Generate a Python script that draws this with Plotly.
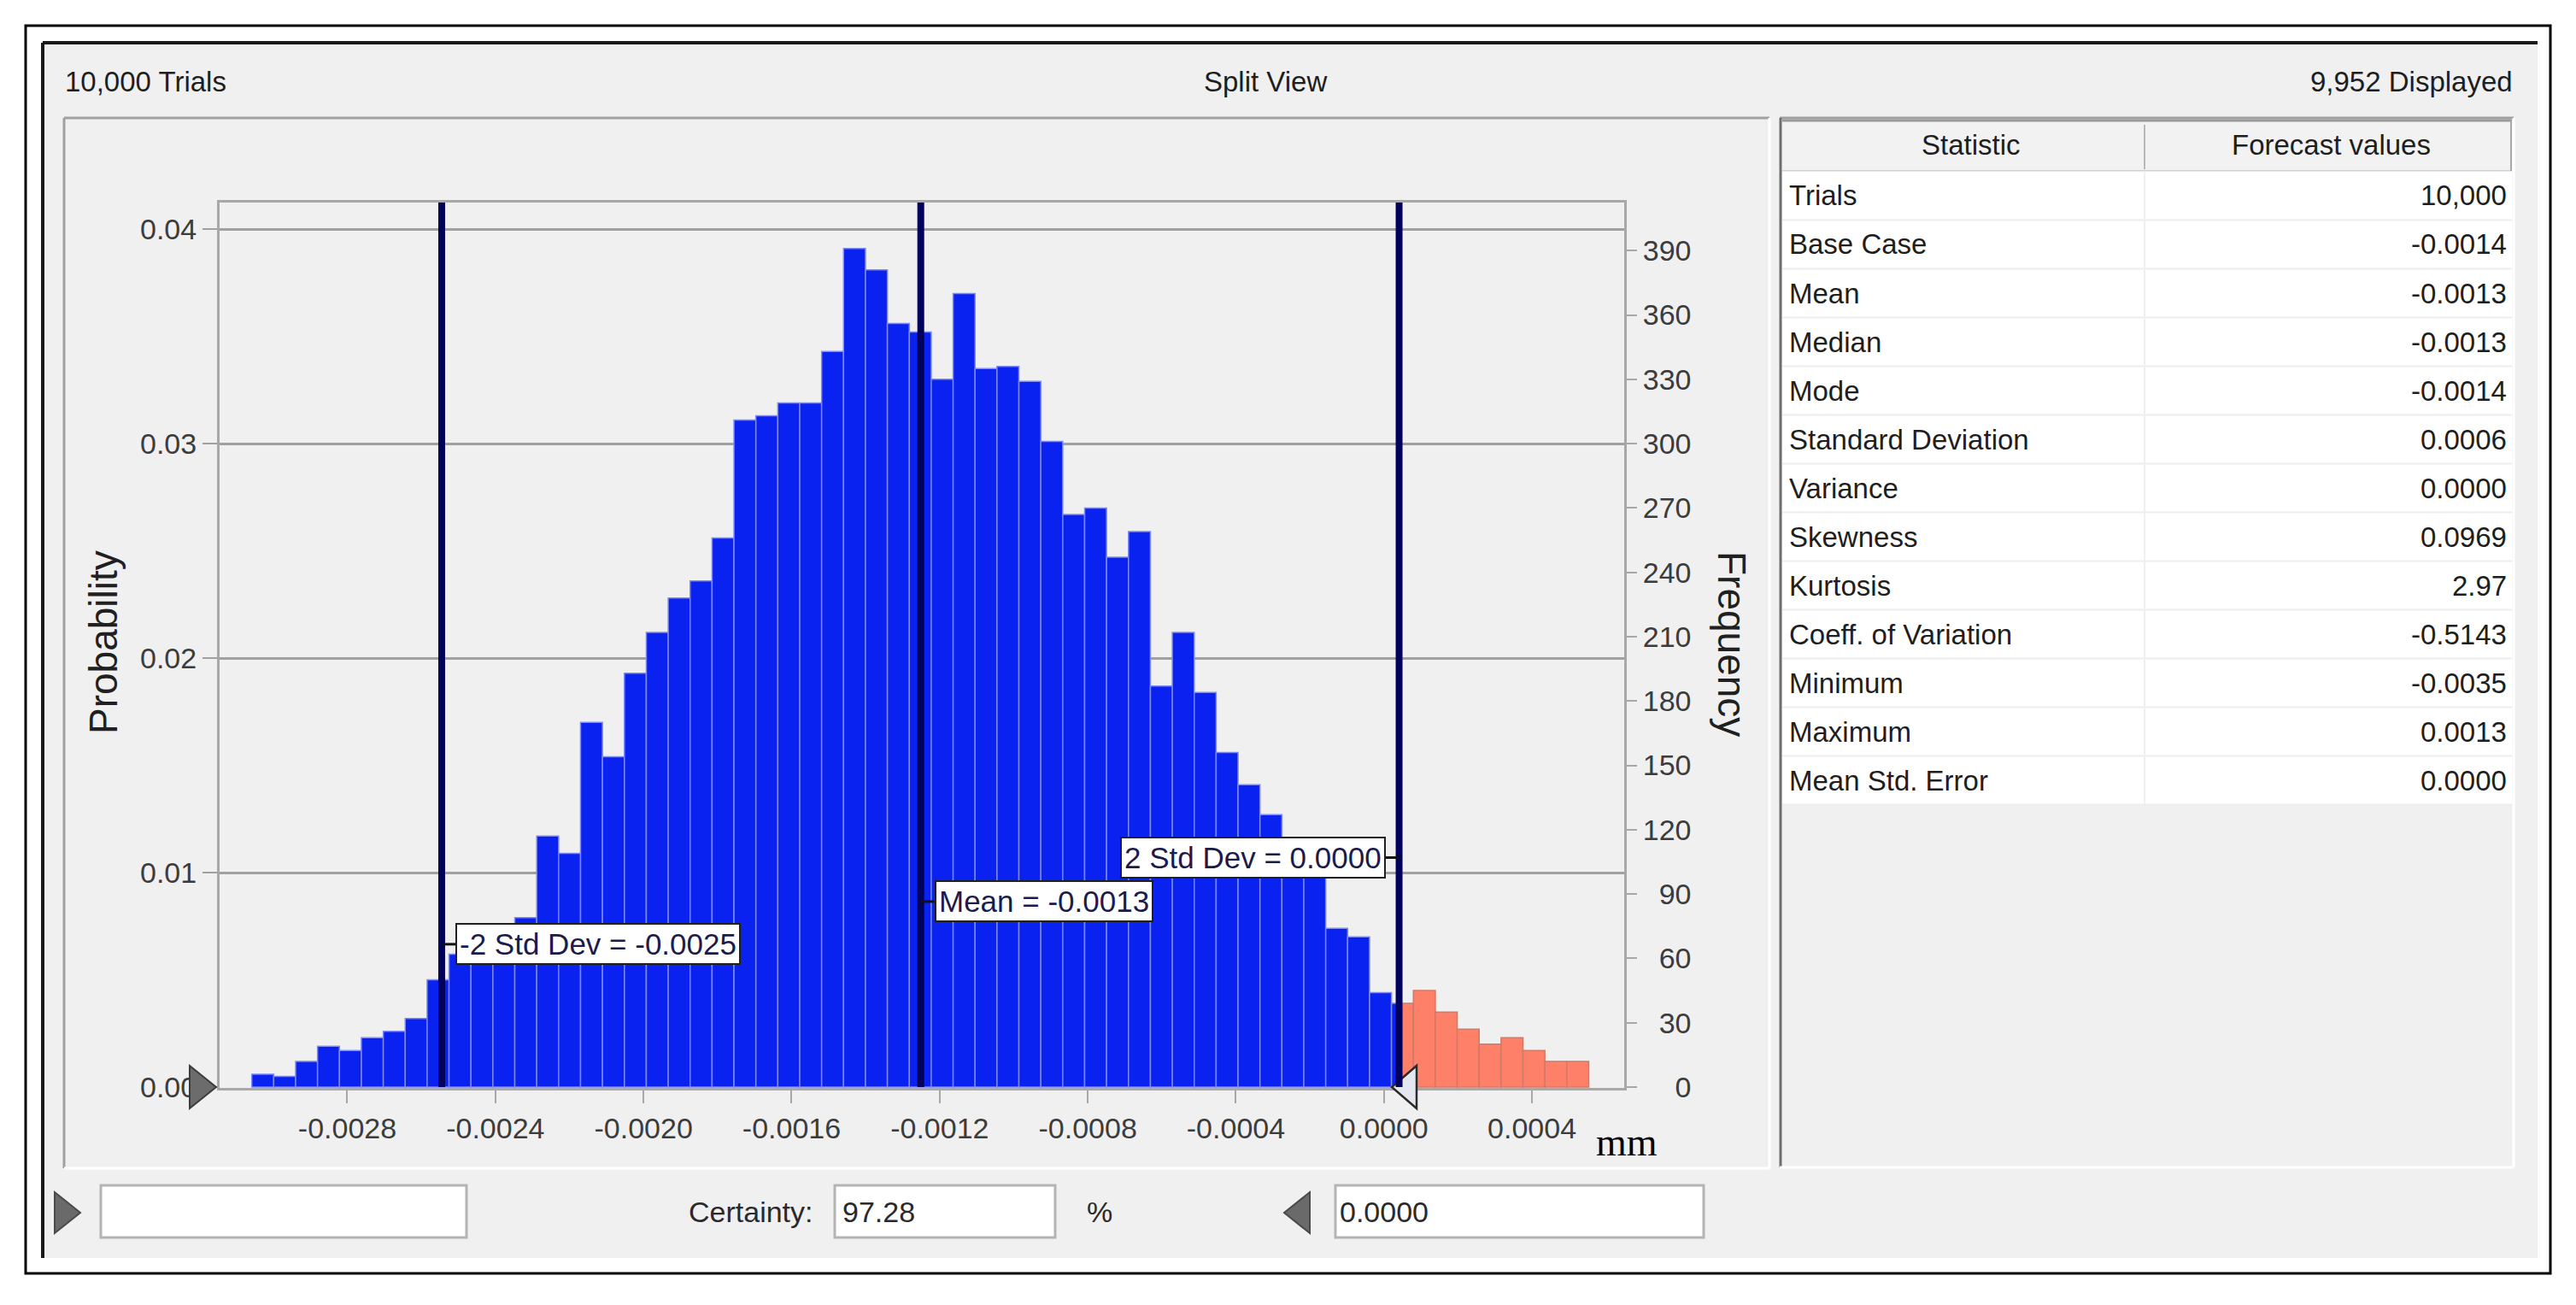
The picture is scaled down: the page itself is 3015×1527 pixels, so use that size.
import plotly.graph_objects as go
import numpy as np

W, H = 3015, 1527
H_FIG = 1545  # page height that ends up shown as 1527 rows

# ---------------- data ----------------
counts = [6, 5, 12, 19, 17, 23, 26, 32, 50, 62, 67, 73, 79, 117, 109, 170, 154, 193,
          212, 228, 236, 256, 311, 313, 319, 319, 343, 391, 381, 356, 352, 330, 370,
          335, 336, 329, 301, 267, 270, 247, 259, 187, 212, 184, 156, 141, 127, 113,
          103, 74, 70, 44, 39, 45, 35, 27, 20, 23, 17, 12, 12]
bin_start = -0.003058
bin_width = 0.0000592
certainty_upper = 0.000037
trials_total = 10000

marker_values = [-0.002545, -0.001251, 0.000041]
marker_labels = ["-2 Std Dev = -0.0025", "Mean = -0.0013", "2 Std Dev = 0.0000"]
marker_label_prob = [0.00666, 0.00865, 0.0107]
marker_label_side = ["left", "left", "right"]

x_tickvals = [-0.0028, -0.0024, -0.0020, -0.0016, -0.0012, -0.0008, -0.0004, 0.0, 0.0004]
x_ticktext = ["-0.0028", "-0.0024", "-0.0020", "-0.0016", "-0.0012", "-0.0008",
              "-0.0004", "0.0000", "0.0004"]
prob_tickvals = [0.0, 0.01, 0.02, 0.03, 0.04]
prob_ticktext = ["0.00", "0.01", "0.02", "0.03", "0.04"]
freq_tickvals = [0, 30, 60, 90, 120, 150, 180, 210, 240, 270, 300, 330, 360, 390]
freq_ticktext = ["0", "30", "60", "90", "120", "150", "180", "210", "240", "270",
                 "300", "330", "360", "390"]

stat_names = ["Trials", "Base Case", "Mean", "Median", "Mode", "Standard Deviation",
              "Variance", "Skewness", "Kurtosis", "Coeff. of Variation", "Minimum",
              "Maximum", "Mean Std. Error"]
stat_values = ["10,000", "-0.0014", "-0.0013", "-0.0013", "-0.0014", "0.0006",
               "0.0000", "0.0969", "2.97", "-0.5143", "-0.0035", "0.0013", "0.0000"]

header_left = "10,000 Trials"
header_mid = "Split View"
header_right = "9,952 Displayed"
certainty_text = "97.28"
upper_text = "0.0000"
unit_text = "mm"

# ---------------- helpers (reference pixel -> paper) ----------------
def px(X):
    return X / W

def py(Y):
    return 1 - Y / H  # paper fraction is unchanged by the vertical page scale

FONT = "Liberation Sans, Arial, sans-serif"
FS = "\u2007"  # figure space for right-aligned numbers

# plot-area geometry (reference pixels)
PL, PR, PT, PB = 257, 1901, 237, 1273
x_range = [-0.003145, 0.000649]
y_range = [-0.00004, 0.04124]
y2_range = [y_range[0] * trials_total, y_range[1] * trials_total]

# ---------------- bars (split at certainty bound) ----------------
blue_x, blue_w, blue_y = [], [], []
red_x, red_w, red_y = [], [], []
for i, c in enumerate(counts):
    lo = bin_start + i * bin_width
    hi = lo + bin_width
    if hi <= certainty_upper:
        blue_x.append((lo + hi) / 2); blue_w.append(hi - lo); blue_y.append(c)
    elif lo >= certainty_upper:
        red_x.append((lo + hi) / 2); red_w.append(hi - lo); red_y.append(c)
    else:
        blue_x.append((lo + certainty_upper) / 2); blue_w.append(certainty_upper - lo); blue_y.append(c)
        red_x.append((certainty_upper + hi) / 2); red_w.append(hi - certainty_upper); red_y.append(c)

fig = go.Figure()
fig.add_trace(go.Scatter(x=[x_range[0]], y=[0], mode="markers", marker=dict(opacity=0),
                         showlegend=False, hoverinfo="skip", yaxis="y"))
fig.add_trace(go.Bar(x=blue_x, y=blue_y, width=blue_w, yaxis="y2",
                     marker=dict(color="#0a22f0", line=dict(color="#7d88f5", width=1.5)),
                     showlegend=False))
fig.add_trace(go.Bar(x=red_x, y=red_y, width=red_w, yaxis="y2",
                     marker=dict(color="#ff8068", line=dict(color="#cf7a68", width=1.5)),
                     showlegend=False))

shapes = []
annotations = []

def rect(x0, y0, x1, y1, fill=None, color=None, width=0, layer="below"):
    shapes.append(dict(type="rect", xref="paper", yref="paper",
                       x0=px(x0), x1=px(x1), y0=py(y0), y1=py(y1),
                       fillcolor=fill if fill else "rgba(0,0,0,0)",
                       line=dict(color=color if color else "rgba(0,0,0,0)", width=width),
                       layer=layer))

def line(x0, y0, x1, y1, color, width, layer="below"):
    shapes.append(dict(type="line", xref="paper", yref="paper",
                       x0=px(x0), x1=px(x1), y0=py(y0), y1=py(y1),
                       line=dict(color=color, width=width), layer=layer))

def tri(pts, fill, color, width=2, layer="above"):
    path = "M " + " L ".join(f"{px(a)},{py(b)}" for a, b in pts) + " Z"
    shapes.append(dict(type="path", xref="paper", yref="paper", path=path,
                       fillcolor=fill, line=dict(color=color, width=width), layer=layer))

def text(X, Y, s, size=33, color="#1e1e1e", xanchor="left", family=FONT, angle=0):
    annotations.append(dict(x=px(X), y=py(Y), xref="paper", yref="paper", text=s,
                            showarrow=False, xanchor=xanchor, yanchor="middle",
                            textangle=angle,
                            font=dict(size=size, color=color, family=family)))

# outer frame and window
rect(30, 30, 2985, 1490, color="#000000", width=3)
rect(50, 50, 2970, 1472, fill="#f0f0f0")
line(50, 50, 2970, 50, "#1a1a1a", 4)
line(50, 50, 50, 1472, "#1a1a1a", 4)

# chart panel
line(75, 138, 2071, 138, "#a0a0a0", 3)
line(75, 138, 75, 1367, "#a0a0a0", 3)
line(75, 1367, 2071, 1367, "#ffffff", 3)
line(2071, 138, 2071, 1367, "#ffffff", 3)

# table panel
line(2083, 138, 2942, 138, "#a0a0a0", 3)
line(2084, 138, 2084, 1366, "#6e6e6e", 3)
line(2083, 1366, 2942, 1366, "#ffffff", 3)
line(2942, 138, 2942, 1366, "#ffffff", 3)

# table header and body
rect(2086, 140, 2940, 200, fill="#f2f2f2")
line(2086, 141, 2940, 141, "#9a9a9a", 3)
line(2086, 200, 2940, 200, "#d0d0d0", 2)
line(2510, 146, 2510, 198, "#b8b8b8", 2)
line(2939, 141, 2939, 200, "#a8a8a8", 2)
ROW0, ROWH = 200.5, 57.0
rect(2086, ROW0, 2940, ROW0 + ROWH * len(stat_names), fill="#ffffff")
for k in range(1, len(stat_names) + 1):
    yy = ROW0 + k * ROWH
    line(2086, yy, 2940, yy, "#ededed", 2)
line(2510, ROW0, 2510, ROW0 + ROWH * len(stat_names), "#f0f0f0", 2)

text(2307, 170, "Statistic", xanchor="center")
text(2728, 170, "Forecast values", xanchor="center")
for k, (nm, val) in enumerate(zip(stat_names, stat_values)):
    yc = ROW0 + ROWH * (k + 0.5)
    text(2092, yc, nm, xanchor="left")
    text(2936, yc, val, xanchor="right")

# header texts
text(74, 95, header_left, xanchor="left")
text(1481, 95, header_mid, xanchor="center")
text(2943, 95, header_right, xanchor="right")

# axis titles
text(121, 752, "Probability", size=46, color="#202020", xanchor="center", angle=-90)
text(2027, 754, "Frequency", size=46, color="#202020", xanchor="center", angle=90)
text(1866, 1336, unit_text, size=46, color="#000000", xanchor="left",
     family="Liberation Serif, Times New Roman, serif")

# bottom controls
rect(118, 1387, 546, 1448, fill="#ffffff", color="#b4b4b4", width=3, layer="above")
rect(977, 1387, 1235, 1448, fill="#ffffff", color="#b4b4b4", width=3, layer="above")
rect(1563, 1387, 1994, 1448, fill="#ffffff", color="#b4b4b4", width=3, layer="above")
text(804, 1418, "Certainty:", size=34, color="#2a2a2a", xanchor="left")
text(984, 1418, certainty_text, size=34, color="#2a2a2a", xanchor="left")
text(1270, 1418, "%", size=34, color="#2a2a2a", xanchor="left")
text(1566, 1418, upper_text, size=34, color="#2a2a2a", xanchor="left")
tri([(64, 1395), (94, 1419), (64, 1443)], "#6a6a6a", "#4a4a4a", 2)
tri([(1533, 1395), (1503, 1419), (1533, 1443)], "#6a6a6a", "#4a4a4a", 2)

# triangles on the chart
tri([(222, 1247), (253, 1272), (222, 1297)], "#6c6c6c", "#3c3c3c", 2)
tri([(1658, 1247), (1629, 1272), (1658, 1297)], "#e4e8ee", "#2a2a2a", 2.5)

# statistic marker lines, connectors and labels
for v, lab, yp, side in zip(marker_values, marker_labels, marker_label_prob, marker_label_side):
    shapes.append(dict(type="line", xref="x", yref="paper", x0=v, x1=v,
                       y0=py(PB - 1), y1=py(PT), line=dict(color="#00005a", width=8),
                       layer="above"))
    sgn = 1 if side == "left" else -1
    shapes.append(dict(type="line", xref="x", yref="y", xsizemode="pixel", xanchor=v,
                       x0=0, x1=sgn * 16, y0=yp, y1=yp,
                       line=dict(color="#101010", width=3), layer="above"))
    annotations.append(dict(x=v, y=yp, xref="x", yref="y", text=lab, showarrow=False,
                            xanchor=side, yanchor="middle", xshift=sgn * 16,
                            bgcolor="#ffffff", bordercolor="#202020", borderwidth=2,
                            borderpad=3,
                            font=dict(size=35, color="#1c1c4c", family=FONT)))

fig.update_layout(
    width=W, height=H_FIG, autosize=False,
    margin=dict(l=0, r=0, t=0, b=0, pad=0),
    paper_bgcolor="#ffffff",
    plot_bgcolor="#fffff2",
    barmode="overlay",
    showlegend=False,
    shapes=shapes,
    annotations=annotations,
    xaxis=dict(domain=[px(PL), px(PR)], range=x_range, tickvals=x_tickvals,
               ticktext=x_ticktext, showgrid=False, zeroline=False,
               showline=True, mirror=True, linecolor="#a8a8a8", linewidth=3,
               ticks="outside", ticklen=15, tickwidth=2, tickcolor="#a8a8a8",
               tickfont=dict(size=34, color="#3c3c3c", family=FONT)),
    yaxis=dict(domain=[py(PB), py(PT)], range=y_range, tickvals=prob_tickvals,
               ticktext=prob_ticktext, showgrid=True, gridcolor="#a0a0a0", gridwidth=2.5,
               zeroline=False, showline=True, mirror=True, linecolor="#a8a8a8",
               linewidth=3, ticks="outside", ticklen=17, tickwidth=2, tickcolor="#a0a0a0",
               tickfont=dict(size=34, color="#3c3c3c", family=FONT)),
    yaxis2=dict(overlaying="y", side="right", anchor="x", range=y2_range,
                tickvals=freq_tickvals,
                ticktext=[FS * (3 - len(t)) + t for t in freq_ticktext],
                showgrid=False, zeroline=False, showline=False,
                ticks="outside", ticklen=14, tickwidth=2, tickcolor="#a8a8a8",
                tickfont=dict(size=34, color="#3c3c3c", family=FONT)),
)

post = (
    "var gd=document.getElementById('{plot_id}');"
    "gd.style.position='fixed';gd.style.top='0px';gd.style.left='0px';"
    "document.body.style.margin='0';document.body.style.overflow='hidden';"
    "document.documentElement.style.overflow='hidden';"
)
fig.write_html("out.html", config={"displayModeBar": False, "responsive": False},
               post_script=post)
